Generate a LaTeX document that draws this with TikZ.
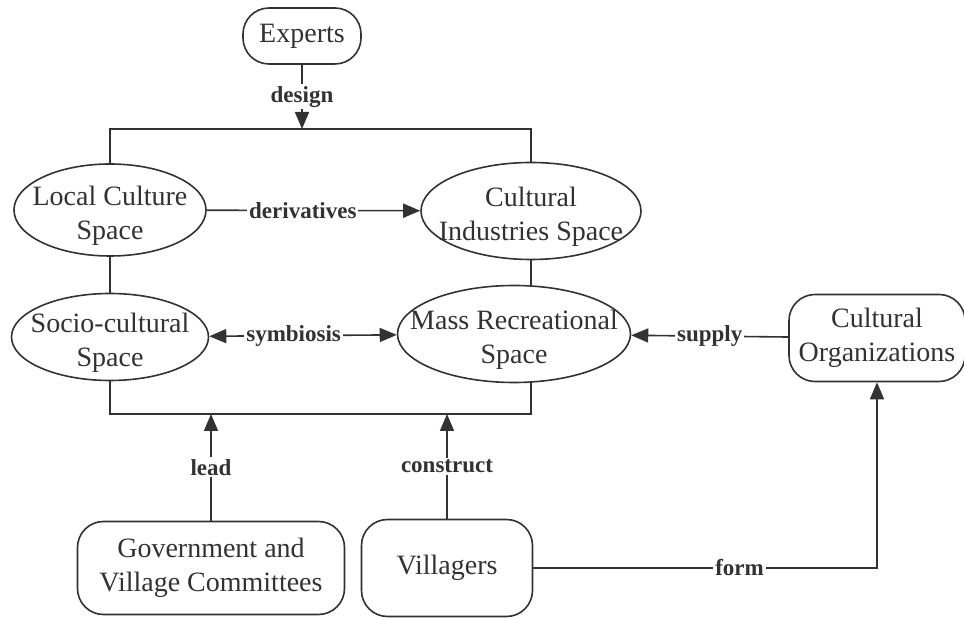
\documentclass[tikz,border=0pt]{standalone}
\usepackage{fontspec}
\setmainfont{Liberation Serif}
\usetikzlibrary{arrows.meta,shapes.geometric}
\definecolor{ink}{RGB}{50,50,50}

\begin{document}
\begin{tikzpicture}[x=0.5pt,y=-0.5pt,line width=0.8pt,color=ink,
    arr/.style={-{Triangle[length=8.5pt,width=7pt]}},
    arrs/.style={{Triangle[length=8.5pt,width=7pt]}-{Triangle[length=8.5pt,width=7pt]}}]

  \useasboundingbox (0,0) rectangle (964,619);

  \begin{scope}[every node/.style={draw,rounded corners=13pt,align=center,font=\fontsize{14}{17}\selectfont}]
    \node[minimum width=59pt,minimum height=28pt] (1) at (302,36) {Experts};
    \node[minimum width=88pt,minimum height=43.5pt] (6) at (877,338) {Cultural\\Organizations};
    \node[minimum width=133.5pt,minimum height=46.5pt] (7) at (211,568) {Government and\\Village Committees};
    \node[minimum width=85.5pt,minimum height=48.5pt] (8) at (447,568) {Villagers};
  \end{scope}

  \begin{scope}[every node/.style={draw,ellipse,inner sep=0pt},
      every label/.style={draw=none,rectangle,align=center,inner sep=0pt,yshift=-3pt,font=\fontsize{14}{17}\selectfont}]
    \node[minimum width=96pt,minimum height=46pt,label={center:Local Culture\\Space}] (2) at (110,210) {};
    \node[minimum width=110pt,minimum height=48.5pt,label={center:Cultural\\Industries Space}] (3) at (531,211) {};
    \node[minimum width=98.5pt,minimum height=43.5pt,label={center:Socio-cultural\\Space}] (4) at (110,337) {};
    \node[minimum width=116.5pt,minimum height=48.5pt,label={center:Mass Recreational\\Space}] (5) at (514,334) {};
  \end{scope}

  \coordinate (a) at (110,129);
  \coordinate (b) at (531,129);
  \coordinate (c) at (110,414);
  \coordinate (d) at (531,414);

  \draw (2) -- (a) -- (b) -- (3);
  \draw (2) -- (4);
  \draw (3) -- (3 |- 5.north);
  \draw (4) -- (c) -- (d) -- (d |- 5.south);

  \begin{scope}[every node/.style={fill=white,inner sep=1pt,font=\bfseries\fontsize{11.5}{13}\selectfont}]
    \path (1) edge[arr] node {design} (1 |- a);
    \path (2) edge[arr] node[pos=0.45] {derivatives} (3);
    \path (4) edge[arrs] node[pos=0.45] {symbiosis} (5);
    \path (6) edge[arr] node {supply} (5);
    \path (7) edge[arr] node {lead} (7 |- c);
    \path (8) edge[arr] node {construct} (8 |- d);
    \draw[arr] (8) -- node[pos=0.6] {form} (8 -| 6) -- (6);
  \end{scope}

\end{tikzpicture}
\end{document}
